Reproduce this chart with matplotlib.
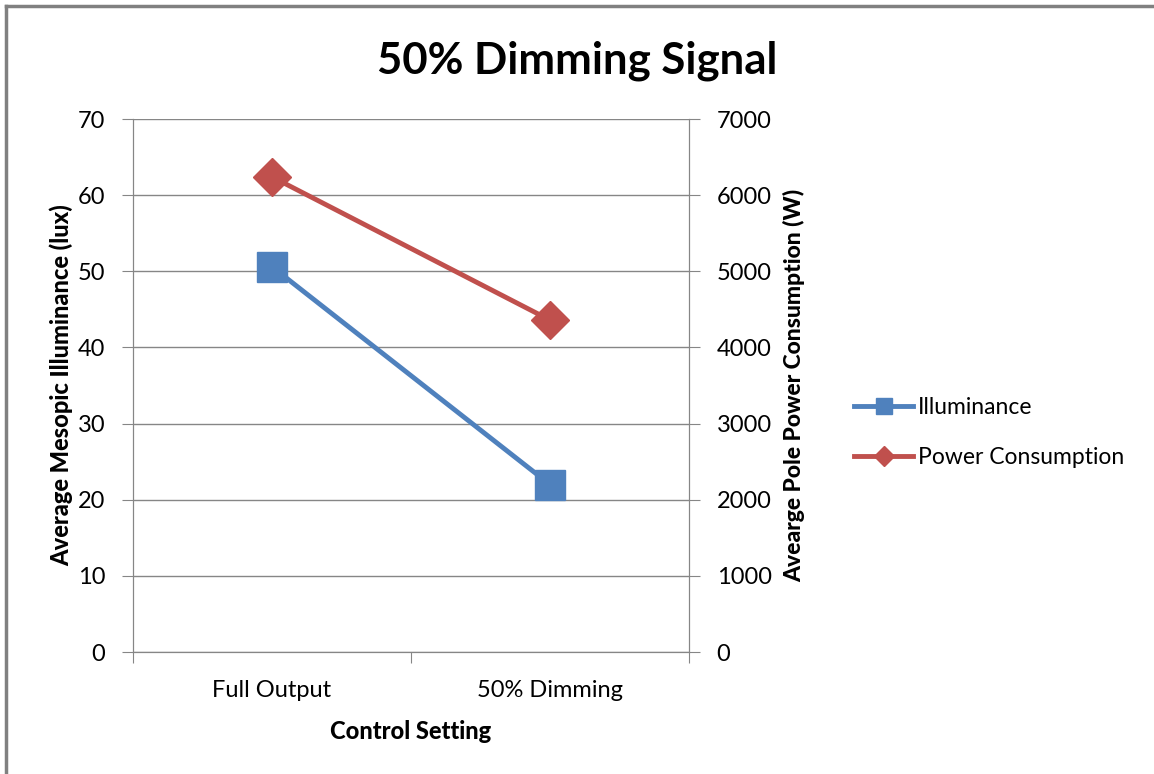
import matplotlib

matplotlib.use("Agg")
import matplotlib.pyplot as plt
from matplotlib.lines import Line2D

plt.rcParams["font.family"] = ["Lato", "DejaVu Sans"]

settings = ["Full Output", "50% Dimming"]
illuminance = [50.6, 22.0]       # lux
power = [6240, 4360]             # W

BLUE = "#4f81bd"
RED = "#c0504d"
GRID = "#868686"

fig = plt.figure(figsize=(11.54, 7.74), dpi=100)
ax = fig.add_axes([0.1153, 0.1576, 0.4817, 0.6886])
ax2 = ax.twinx()

x = [0.5, 1.5]
ax.plot(x, illuminance, color=BLUE, lw=3.5, marker="s", ms=21, zorder=3,
        label="Illuminance")
ax2.plot(x, power, color=RED, lw=3.5, marker="D", ms=19, zorder=3,
         label="Power Consumption")

ax.set_xlim(0, 2)
ax.set_ylim(0, 70)
ax.set_yticks(range(0, 71, 10))
ax2.set_ylim(0, 7000)
ax2.set_yticks(range(0, 7001, 1000))

ax.set_xticks([0, 1, 2])
ax.set_xticklabels([])
ax.set_xticks(x, minor=True)
ax.set_xticklabels(settings, minor=True, fontsize=17)
ax.tick_params(axis="x", which="minor", length=0, pad=20)
ax.tick_params(axis="x", which="major", length=8, color=GRID)

ax.yaxis.grid(True, color=GRID, lw=1)
ax.set_axisbelow(True)
ax.tick_params(axis="y", length=8, color=GRID, labelsize=17, pad=12)
ax2.tick_params(axis="y", length=8, color=GRID, labelsize=17, pad=12)

for a in (ax, ax2):
    a.spines["top"].set_visible(False)
    for side in ("left", "right", "bottom"):
        a.spines[side].set_color(GRID)

ax.set_xlabel("Control Setting", fontsize=17, fontweight="black", labelpad=14)
ax.set_ylabel("Average Mesopic Illuminance (lux)", fontsize=17,
              fontweight="black", labelpad=3)
ax2.set_ylabel("Avearge Pole Power Consumption (W)", fontsize=16.5,
               fontweight="black", labelpad=8)

fig.text(0.5, 0.922, "50% Dimming Signal", ha="center", va="center",
         fontsize=31.5, fontweight="bold")

handles = [
    Line2D([], [], color=BLUE, lw=3.5, marker="s", ms=12),
    Line2D([], [], color=RED, lw=3.5, marker="D", ms=10),
]
fig.legend(handles, ["Illuminance", "Power Consumption"], loc="center left",
           bbox_to_anchor=(0.722, 0.441), frameon=False, fontsize=16.5,
           handlelength=2.6, handletextpad=0.2, labelspacing=1.25)

# chart frame along the left and top edges
fig.add_artist(Line2D([0.0055, 0.0055], [0, 0.992], transform=fig.transFigure,
                      color="#808080", lw=2.5))
fig.add_artist(Line2D([0.0055, 1], [0.992, 0.992], transform=fig.transFigure,
                      color="#808080", lw=2.5))

fig.savefig("out.png", dpi=100)
